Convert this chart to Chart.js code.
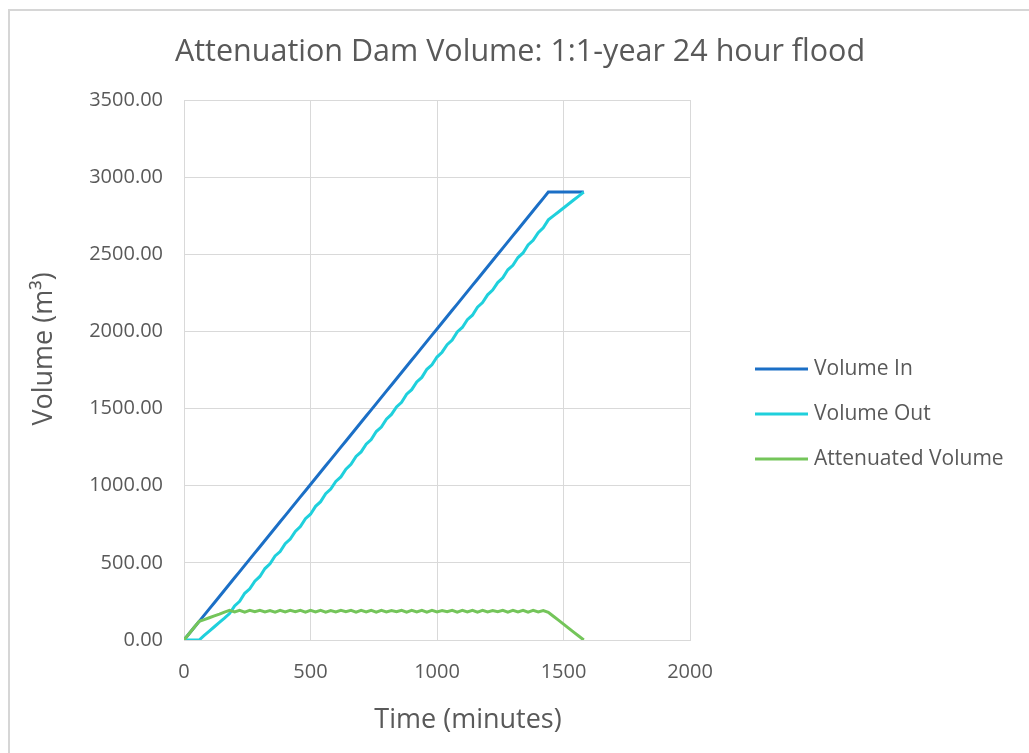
<!DOCTYPE html>
<html>
<head>
<meta charset="utf-8">
<script src="https://cdn.jsdelivr.net/npm/chart.js@4/dist/chart.umd.min.js"></script>
<style>
  html, body { margin: 0; padding: 0; background: #ffffff; }
  #wrap { width: 1029px; height: 753px; }
</style>
</head>
<body>
<div id="wrap"><canvas id="c" width="1029" height="753"></canvas></div>
<script>
// Time axis (minutes), sampled every 20 minutes
const timeMinutes = [
  0, 20, 40, 60, 80, 100, 120, 140, 160, 180,
  200, 220, 240, 260, 280, 300, 320, 340, 360, 380,
  400, 420, 440, 460, 480, 500, 520, 540, 560, 580,
  600, 620, 640, 660, 680, 700, 720, 740, 760, 780,
  800, 820, 840, 860, 880, 900, 920, 940, 960, 980,
  1000, 1020, 1040, 1060, 1080, 1100, 1120, 1140, 1160, 1180,
  1200, 1220, 1240, 1260, 1280, 1300, 1320, 1340, 1360, 1380,
  1400, 1420, 1440, 1460, 1480, 1500, 1520, 1540, 1560, 1580
];

// Cumulative inflow volume (m3)
const volumeIn = [
  0, 40.3, 80.6, 121.0, 161.3, 201.6, 241.9, 282.2, 322.6, 362.9,
  403.2, 443.5, 483.8, 524.2, 564.5, 604.8, 645.1, 685.4, 725.8, 766.1,
  806.4, 846.7, 887.0, 927.4, 967.7, 1008.0, 1048.3, 1088.6, 1129.0, 1169.3,
  1209.6, 1249.9, 1290.2, 1330.6, 1370.9, 1411.2, 1451.5, 1491.8, 1532.2, 1572.5,
  1612.8, 1653.1, 1693.4, 1733.8, 1774.1, 1814.4, 1854.7, 1895.0, 1935.4, 1975.7,
  2016.0, 2056.3, 2096.6, 2137.0, 2177.3, 2217.6, 2257.9, 2298.2, 2338.6, 2378.9,
  2419.2, 2459.5, 2499.8, 2540.2, 2580.5, 2620.8, 2661.1, 2701.4, 2741.8, 2782.1,
  2822.4, 2862.7, 2903.0, 2903.0, 2903.0, 2903.0, 2903.0, 2903.0, 2903.0, 2903.0
];

// Cumulative outflow volume (m3)
const volumeOut = [
  0, 0, 0, 0, 29.3, 57.6, 85.9, 114.2, 141.6, 170.9,
  221.2, 250.5, 302.8, 332.2, 381.5, 411.8, 463.1, 494.4, 544.8, 573.1,
  624.4, 654.7, 704.0, 735.4, 786.7, 815.0, 866.3, 896.6, 948.0, 978.3,
  1027.6, 1056.9, 1107.2, 1138.6, 1189.9, 1219.2, 1269.5, 1298.8, 1351.2, 1380.5,
  1430.8, 1462.1, 1510.4, 1540.8, 1593.1, 1622.4, 1672.7, 1702.0, 1754.4, 1783.7,
  1834.0, 1865.3, 1913.6, 1944.0, 1996.3, 2025.6, 2075.9, 2105.2, 2157.6, 2186.9,
  2237.2, 2268.5, 2316.8, 2347.2, 2399.5, 2428.8, 2479.1, 2508.4, 2560.8, 2590.1,
  2640.4, 2671.7, 2723.0, 2749.0, 2774.0, 2800.0, 2826.0, 2852.0, 2877.0, 2903.0
];

// Volume held back in the dam (m3)
const attenuatedVolume = [
  0, 40.3, 80.6, 121.0, 132, 144, 156, 168, 181, 192,
  182, 193, 181, 192, 183, 193, 182, 191, 181, 193,
  182, 192, 183, 192, 181, 193, 182, 192, 181, 191,
  182, 193, 183, 192, 181, 192, 182, 193, 181, 192,
  182, 191, 183, 193, 181, 192, 182, 193, 181, 192,
  182, 191, 183, 193, 181, 192, 182, 193, 181, 192,
  182, 191, 183, 193, 181, 192, 182, 193, 181, 192,
  182, 191, 180, 154, 129, 103, 77, 51, 26, 0
];

const seriesLabels = ['Volume In', 'Volume Out', 'Attenuated Volume'];
const seriesColors = ['#1b6fc6', '#1fd0dc', '#74c55a'];
const xTicks = [0, 500, 1000, 1500, 2000];
const yTicks = [0, 500, 1000, 1500, 2000, 2500, 3000, 3500];

const chartTitle = 'Attenuation Dam Volume: 1:1-year 24 hour flood';
const xTitle = 'Time (minutes)';
const yTitle = 'Volume (m\u00B3)';

const TEXT = '#595959';
const GRID = '#d9d9d9';
const FONT = "'Open Sans', 'DejaVu Sans', sans-serif";

function pts(values) {
  return timeMinutes.map((t, i) => ({ x: t, y: values[i] }));
}

const seriesValues = [volumeIn, volumeOut, attenuatedVolume];

const datasets = seriesValues.map((vals, i) => ({
  label: seriesLabels[i],
  data: pts(vals),
  borderColor: seriesColors[i],
  backgroundColor: seriesColors[i],
  borderWidth: 3,
  pointRadius: 0,
  tension: 0,
  fill: false,
  order: 3 - i
}));

// Frame, title, axis titles and legend
const decorations = {
  id: 'decorations',
  beforeDraw(chart) {
    const ctx = chart.ctx;
    ctx.save();
    ctx.fillStyle = '#ffffff';
    ctx.fillRect(0, 0, chart.width, chart.height);
    ctx.strokeStyle = '#d6d6d6';
    ctx.lineWidth = 2;
    ctx.beginPath();
    ctx.moveTo(9, chart.height + 5);
    ctx.lineTo(9, 10);
    ctx.lineTo(chart.width + 5, 10);
    ctx.stroke();
    ctx.restore();
  },
  afterDraw(chart) {
    const ctx = chart.ctx;
    ctx.save();
    ctx.fillStyle = TEXT;

    // chart title
    ctx.font = '30.5px ' + FONT;
    ctx.textAlign = 'center';
    ctx.textBaseline = 'alphabetic';
    ctx.fillText(chartTitle, 520, 61);

    // axis titles
    ctx.font = '27px ' + FONT;
    ctx.fillText(xTitle, 468, 728);
    ctx.save();
    ctx.translate(52, 349);
    ctx.rotate(-Math.PI / 2);
    ctx.fillText(yTitle, 0, 0);
    ctx.restore();

    // legend
    ctx.font = '21px ' + FONT;
    ctx.textAlign = 'left';
    ctx.textBaseline = 'middle';
    const legendX = 755, legendY = 369, gap = 45;
    chart.data.datasets.forEach((ds, i) => {
      const y = legendY + i * gap;
      ctx.strokeStyle = ds.borderColor;
      ctx.lineWidth = 3;
      ctx.beginPath();
      ctx.moveTo(legendX, y);
      ctx.lineTo(legendX + 53, y);
      ctx.stroke();
      ctx.fillStyle = TEXT;
      ctx.fillText(ds.label, legendX + 59, y);
    });
    ctx.restore();
  }
};

const PAD = { left: 20, right: 339, top: 100, bottom: 20 };
const AREA = { left: 184, right: 690, top: 100, bottom: 640 };

new Chart(document.getElementById('c'), {
  type: 'line',
  data: { datasets },
  options: {
    responsive: false,
    animation: false,
    events: [],
    layout: { padding: PAD },
    plugins: {
      legend: { display: false },
      title: { display: false },
      tooltip: { enabled: false }
    },
    scales: {
      x: {
        type: 'linear',
        min: 0,
        max: 2000,
        afterBuildTicks(scale) { scale.ticks = xTicks.map(v => ({ value: v })); },
        afterFit(scale) { scale.height = 753 - AREA.bottom - PAD.bottom; },
        grid: { color: GRID, lineWidth: 1, drawTicks: false },
        border: { color: GRID, width: 1 },
        ticks: {
          padding: 20,
          color: TEXT,
          font: { family: FONT, size: 20 },
          callback: v => String(v),
          maxRotation: 0
        }
      },
      y: {
        type: 'linear',
        min: 0,
        max: 3500,
        afterBuildTicks(scale) { scale.ticks = yTicks.map(v => ({ value: v })); },
        afterFit(scale) { scale.width = AREA.left - PAD.left; },
        grid: { color: GRID, lineWidth: 1, drawTicks: false },
        border: { color: GRID, width: 1 },
        ticks: {
          padding: 21,
          color: TEXT,
          font: { family: FONT, size: 20 },
          callback: v => Number(v).toFixed(2)
        }
      }
    }
  },
  plugins: [decorations]
});
</script>
</body>
</html>
